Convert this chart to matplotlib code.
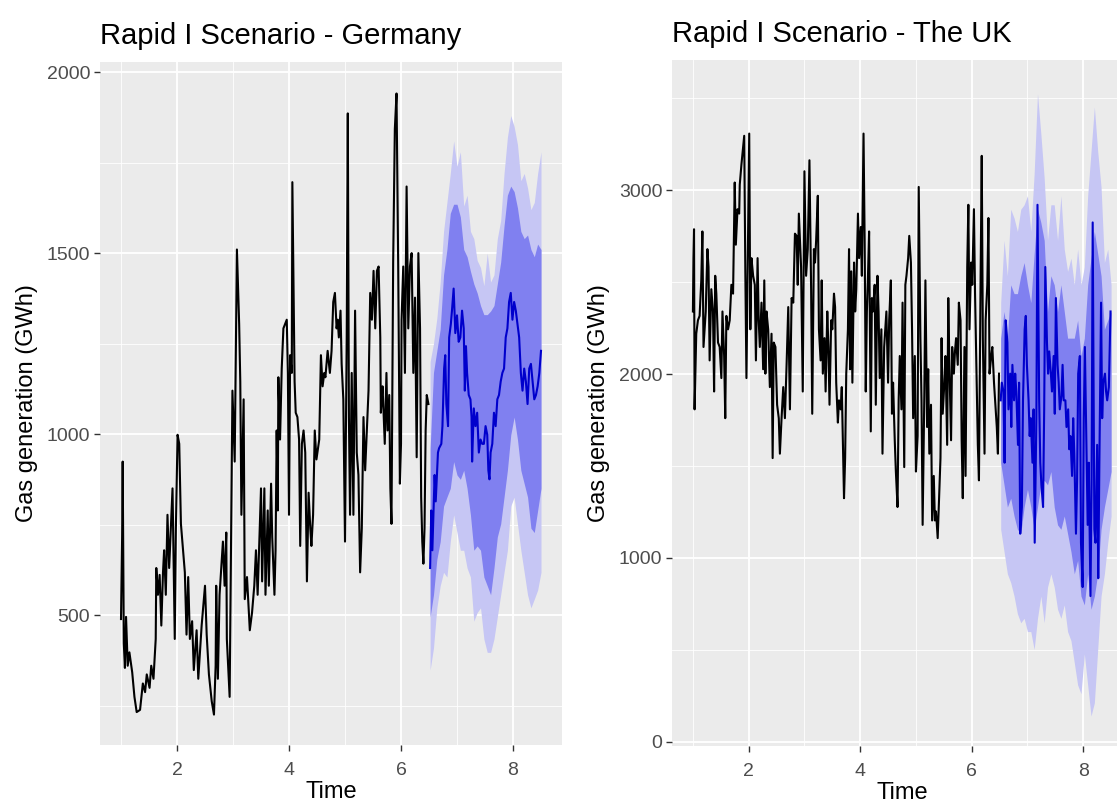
# Rapid I scenario: weekly gas generation history + 2-year forecast fan
# Germany (left) and the UK (right), ggplot-like look

import matplotlib
matplotlib.use("Agg")
import matplotlib.pyplot as plt
from matplotlib.ticker import MultipleLocator

plt.rcParams['font.family'] = ['Liberation Sans', 'DejaVu Sans']

# ── 1. Germany: history (time, GWh) ──────────────────────────────────────────
de_hist_t = [1.00, 1.02, 1.03, 1.05, 1.07, 1.09, 1.12, 1.15, 1.20, 1.24,
             1.28, 1.34, 1.39, 1.43, 1.46, 1.51, 1.54, 1.58, 1.62, 1.63,
             1.66, 1.69, 1.72, 1.75, 1.77, 1.80, 1.83, 1.86, 1.92, 1.96,
             1.98, 2.01, 2.04, 2.07, 2.14, 2.17, 2.20, 2.23, 2.27, 2.30,
             2.35, 2.38, 2.44, 2.50, 2.53, 2.57, 2.62, 2.66, 2.69, 2.70,
             2.73, 2.76, 2.82, 2.85, 2.88, 2.89, 2.94, 2.99, 3.03, 3.07,
             3.11, 3.13, 3.15, 3.19, 3.21, 3.25, 3.30, 3.34, 3.38, 3.41,
             3.44, 3.50, 3.52, 3.56, 3.58, 3.62, 3.64, 3.68, 3.70, 3.74,
             3.76, 3.78, 3.80, 3.81, 3.84, 3.87, 3.90, 3.93, 3.96, 3.98,
             4.00, 4.02, 4.05, 4.06, 4.08, 4.10, 4.12, 4.15, 4.18, 4.20,
             4.23, 4.26, 4.29, 4.32, 4.35, 4.38, 4.40, 4.43, 4.46, 4.49,
             4.54, 4.57, 4.60, 4.63, 4.65, 4.69, 4.73, 4.76, 4.79, 4.82,
             4.85, 4.87, 4.89, 4.92, 4.94, 4.97, 5.00, 5.03, 5.05, 5.07,
             5.09, 5.12, 5.15, 5.18, 5.21, 5.24, 5.27, 5.30, 5.33, 5.36,
             5.39, 5.42, 5.45, 5.48, 5.51, 5.54, 5.57, 5.60, 5.63, 5.64,
             5.67, 5.68, 5.71, 5.74, 5.76, 5.79, 5.81, 5.83, 5.86, 5.89,
             5.92, 5.95, 5.98, 6.00, 6.01, 6.04, 6.07, 6.10, 6.13, 6.16,
             6.19, 6.22, 6.25, 6.28, 6.31, 6.34, 6.36, 6.38, 6.40, 6.42,
             6.44, 6.46, 6.49]
de_hist_v = [489, 716, 924, 422, 354, 495, 360, 397, 342, 274,
             232, 238, 311, 287, 336, 299, 360, 324, 434, 630,
             556, 611, 471, 618, 679, 556, 777, 630, 850, 434,
             740, 998, 973, 752, 618, 446, 605, 434, 483, 348,
             458, 324, 471, 581, 446, 336, 262, 225, 360, 581,
             324, 556, 703, 581, 728, 434, 274, 1120, 924, 1510,
             1304, 1145, 777, 1096, 544, 605, 458, 507, 581, 679,
             556, 850, 593, 850, 556, 789, 581, 863, 716, 556,
             679, 1010, 789, 1157, 985, 1181, 1292, 1304, 1316, 1169,
             777, 1218, 1169, 1696, 1414, 1145, 1059, 1047, 985, 691,
             973, 1010, 949, 593, 838, 740, 691, 777, 1010, 930,
             985, 1218, 1132, 1169, 1157, 1230, 1169, 1230, 1365, 1390,
             1292, 1316, 1267, 1341, 1194, 1096, 703, 1267, 1886, 1047,
             777, 1169, 777, 1341, 949, 887, 618, 740, 1047, 900,
             1010, 1120, 1390, 1316, 1451, 1292, 1451, 1463, 1267, 1059,
             1132, 1096, 973, 1169, 1010, 1108, 850, 752, 1475, 1843,
             1941, 1463, 863, 973, 1316, 1463, 1169, 1684, 1292, 1463,
             1500, 1169, 1377, 936, 1500, 1292, 826, 703, 642, 740,
             1010, 1108, 1083]

# ── 2. Germany: forecast mean and 80 / 95 % intervals ────────────────────────
de_fc_t = [6.52, 6.54, 6.56, 6.60, 6.62, 6.66, 6.68, 6.72, 6.74, 6.77,
           6.79, 6.81, 6.84, 6.86, 6.89, 6.91, 6.94, 6.97, 7.00, 7.03,
           7.06, 7.09, 7.12, 7.14, 7.16, 7.18, 7.21, 7.24, 7.26, 7.27,
           7.30, 7.33, 7.36, 7.39, 7.42, 7.45, 7.48, 7.51, 7.54, 7.56,
           7.58, 7.60, 7.63, 7.66, 7.69, 7.72, 7.75, 7.78, 7.81, 7.84,
           7.87, 7.90, 7.93, 7.96, 7.99, 8.02, 8.05, 8.08, 8.11, 8.14,
           8.17, 8.20, 8.23, 8.26, 8.29, 8.32, 8.35, 8.38, 8.41, 8.44,
           8.47, 8.50]
de_fc_v = [630, 789, 679, 887, 814, 949, 961, 973, 1022, 1181,
           1218, 1083, 1022, 1267, 1304, 1341, 1402, 1279, 1328, 1255,
           1267, 1341, 1292, 1120, 1243, 1169, 1108, 1096, 1047, 924,
           1071, 1022, 1059, 949, 985, 973, 973, 1022, 998, 900,
           875, 949, 973, 1059, 1022, 1096, 1108, 1145, 1169, 1181,
           1267, 1292, 1365, 1390, 1316, 1365, 1341, 1304, 1267, 1169,
           1120, 1181, 1145, 1083, 1181, 1194, 1145, 1096, 1108, 1132,
           1169, 1230]

band_t = [6.52, 6.58, 6.64, 6.70, 6.76, 6.82, 6.88, 6.94, 7.00, 7.06,
          7.12, 7.18, 7.24, 7.30, 7.36, 7.42, 7.48, 7.54, 7.60, 7.66,
          7.72, 7.78, 7.84, 7.90, 7.96, 8.02, 8.08, 8.14, 8.20, 8.26,
          8.32, 8.38, 8.44, 8.50]

de_hi95 = [1200, 1250, 1320, 1420, 1560, 1640, 1720, 1810, 1740, 1780,
           1630, 1660, 1560, 1540, 1480, 1460, 1410, 1500, 1420, 1440,
           1540, 1590, 1720, 1820, 1880, 1850, 1800, 1700, 1720, 1680,
           1620, 1640, 1720, 1780]
de_hi80 = [960, 1170, 1230, 1290, 1440, 1510, 1610, 1635, 1635, 1600,
           1510, 1490, 1450, 1415, 1390, 1355, 1330, 1330, 1340, 1355,
           1415, 1475, 1575, 1660, 1685, 1670, 1625, 1560, 1540, 1550,
           1510, 1490, 1525, 1510]
de_lo80 = [495, 556, 654, 703, 801, 826, 850, 924, 887, 875,
           900, 850, 777, 679, 691, 679, 605, 581, 556, 630,
           716, 752, 826, 900, 998, 1047, 985, 900, 863, 826,
           740, 728, 789, 850]
de_lo95 = [348, 409, 520, 581, 618, 605, 703, 777, 728, 679,
           679, 630, 605, 483, 507, 520, 434, 397, 397, 434,
           495, 556, 618, 679, 801, 826, 752, 679, 618, 556,
           520, 544, 569, 618]

# ── 3. The UK: history ───────────────────────────────────────────────────────
uk_hist_t = [1.00, 1.01, 1.02, 1.03, 1.06, 1.09, 1.12, 1.15, 1.17, 1.19,
             1.21, 1.23, 1.26, 1.28, 1.30, 1.33, 1.36, 1.38, 1.40, 1.42,
             1.45, 1.48, 1.51, 1.53, 1.56, 1.58, 1.60, 1.63, 1.66, 1.69,
             1.72, 1.75, 1.77, 1.80, 1.83, 1.84, 1.87, 1.90, 1.92, 1.94,
             1.96, 1.99, 2.01, 2.03, 2.05, 2.08, 2.11, 2.13, 2.16, 2.18,
             2.20, 2.23, 2.26, 2.28, 2.30, 2.32, 2.35, 2.38, 2.41, 2.43,
             2.45, 2.48, 2.51, 2.54, 2.56, 2.59, 2.62, 2.65, 2.68, 2.71,
             2.74, 2.77, 2.80, 2.83, 2.86, 2.88, 2.90, 2.94, 2.97, 3.00,
             3.03, 3.06, 3.09, 3.12, 3.14, 3.17, 3.19, 3.21, 3.24, 3.26,
             3.29, 3.31, 3.33, 3.36, 3.38, 3.41, 3.43, 3.45, 3.48, 3.50,
             3.53, 3.55, 3.57, 3.60, 3.62, 3.65, 3.67, 3.69, 3.71, 3.73,
             3.75, 3.78, 3.80, 3.82, 3.84, 3.86, 3.89, 3.91, 3.93, 3.96,
             3.98, 4.01, 4.03, 4.06, 4.08, 4.10, 4.12, 4.14, 4.16, 4.19,
             4.21, 4.23, 4.26, 4.28, 4.31, 4.33, 4.35, 4.38, 4.40, 4.43,
             4.45, 4.47, 4.50, 4.52, 4.55, 4.57, 4.59, 4.62, 4.64, 4.67,
             4.69, 4.71, 4.74, 4.76, 4.79, 4.81, 4.83, 4.86, 4.88, 4.91,
             4.93, 4.95, 4.98, 5.00, 5.03, 5.05, 5.08, 5.10, 5.12, 5.15,
             5.17, 5.20, 5.22, 5.24, 5.27, 5.29, 5.32, 5.34, 5.36, 5.39,
             5.41, 5.44, 5.46, 5.48, 5.51, 5.53, 5.56, 5.58, 5.60, 5.63,
             5.65, 5.68, 5.70, 5.72, 5.75, 5.77, 5.80, 5.82, 5.84, 5.87,
             5.89, 5.92, 5.94, 5.96, 5.99, 6.01, 6.04, 6.06, 6.08, 6.11,
             6.13, 6.16, 6.18, 6.20, 6.23, 6.25, 6.28, 6.30, 6.32, 6.35,
             6.37, 6.40, 6.42, 6.45, 6.47, 6.49]
uk_hist_v = [2340, 2630, 2787, 1808, 2219, 2292, 2316, 2509, 2775, 2147,
             2243, 2340, 2679, 2582, 2074, 2461, 2340, 1905, 2534, 2437,
             2171, 2147, 1978, 2340, 2098, 1760, 2316, 2243, 2292, 2485,
             2437, 3041, 2703, 2896, 2872, 3029, 3138, 3234, 3295, 2558,
             1978, 2775, 3307, 2243, 2630, 2534, 2485, 2074, 2630, 2292,
             2147, 2388, 2026, 2509, 2002, 2340, 2243, 1929, 2219, 1543,
             2171, 2147, 1833, 1760, 1567, 1760, 1929, 1760, 2050, 2364,
             1808, 2413, 2388, 2763, 2751, 2485, 2872, 2582, 1905, 3102,
             2534, 2679, 3162, 2461, 1784, 2679, 2606, 2727, 2969, 2243,
             2074, 2509, 2002, 2195, 1905, 2340, 2147, 1833, 2292, 2243,
             2437, 2364, 1953, 1736, 1857, 1808, 1929, 1615, 1325, 1543,
             2002, 2243, 2679, 2026, 2558, 1953, 2606, 2340, 2461, 2872,
             2630, 2799, 2534, 3307, 2727, 1905, 2340, 2534, 2775, 1688,
             2413, 2340, 2485, 1833, 2534, 2340, 1978, 2243, 1567, 2147,
             2243, 2340, 1953, 2292, 2509, 1784, 1953, 1640, 1470, 1277,
             1857, 2098, 1808, 2388, 1494, 2485, 2534, 2630, 2751, 2606,
             2243, 1760, 2098, 1470, 1663, 3017, 2195, 1857, 1180, 1881,
             2509, 1712, 2026, 1567, 1833, 1204, 1446, 1204, 1253, 1108,
             1277, 1543, 2195, 1784, 1953, 2098, 1615, 2413, 2050, 1640,
             2147, 2002, 2123, 2195, 2050, 2388, 2292, 1640, 1325, 2147,
             1446, 2582, 2920, 2243, 2606, 2485, 2896, 2437, 2098, 1615,
             1422, 2534, 3186, 2195, 1567, 2292, 2485, 2848, 2002, 2098,
             2147, 1953, 1857, 1712, 1567, 2002]

# ── 4. The UK: forecast ──────────────────────────────────────────────────────
uk_fc_t = [6.52, 6.54, 6.57, 6.59, 6.61, 6.64, 6.66, 6.69, 6.71, 6.73,
           6.76, 6.78, 6.80, 6.83, 6.85, 6.87, 6.90, 6.92, 6.95, 6.97,
           6.99, 7.02, 7.04, 7.06, 7.09, 7.11, 7.13, 7.16, 7.18, 7.21,
           7.23, 7.25, 7.28, 7.30, 7.32, 7.35, 7.37, 7.39, 7.42, 7.44,
           7.47, 7.49, 7.51, 7.54, 7.56, 7.58, 7.61, 7.63, 7.65, 7.68,
           7.70, 7.73, 7.75, 7.77, 7.80, 7.82, 7.84, 7.87, 7.89, 7.91,
           7.94, 7.96, 7.99, 8.01, 8.03, 8.06, 8.08, 8.10, 8.13, 8.15,
           8.17, 8.20, 8.22, 8.25, 8.27, 8.29, 8.32, 8.34, 8.36, 8.39,
           8.41, 8.43, 8.46, 8.49]
uk_fc_v = [1857, 1953, 1905, 1518, 2292, 2171, 1808, 2002, 1712, 2050,
           1857, 2002, 1905, 1615, 1953, 1132, 1277, 1857, 2243, 2316,
           2050, 1857, 1663, 1760, 1518, 1808, 1083, 1760, 2920, 1857,
           1518, 1398, 1277, 1808, 2582, 2171, 2002, 2123, 2002, 1905,
           2098, 1784, 2413, 2050, 1953, 1808, 1881, 2050, 1857, 1857,
           1712, 1808, 1591, 1663, 1446, 1760, 1567, 1132, 1422, 2002,
           2098, 1083, 842, 1760, 2147, 1567, 1180, 1518, 793, 1398,
           2824, 1156, 1083, 1615, 890, 1518, 2388, 1760, 1953, 2002,
           1905, 1857, 1929, 2340]

uk_hi95 = [2388, 2727, 2534, 2896, 2848, 2775, 2896, 2920, 2969, 2775,
           3089, 3524, 3307, 3065, 2727, 2920, 2920, 2727, 2969, 2679,
           2558, 2630, 2485, 2679, 2485, 2582, 2969, 3210, 3452, 3210,
           3017, 2606, 2679, 2485]
uk_hi80 = [2195, 2340, 2195, 2485, 2437, 2437, 2534, 2606, 2485, 2388,
           2654, 2896, 2824, 2727, 2340, 2534, 2485, 2340, 2485, 2340,
           2195, 2195, 2195, 2292, 2098, 2195, 2485, 2630, 2775, 2654,
           2534, 2243, 2292, 2340]
uk_lo80 = [1518, 1398, 1277, 1325, 1228, 1156, 1132, 1277, 1373, 1277,
           1156, 1277, 1398, 1422, 1398, 1470, 1277, 1180, 1156, 1228,
           1132, 1035, 914, 987, 793, 745, 914, 721, 793, 914,
           1156, 1277, 1373, 1470]
uk_lo95 = [1156, 1035, 914, 866, 793, 697, 648, 672, 600, 600,
           503, 672, 793, 648, 842, 914, 842, 721, 672, 745,
           600, 551, 431, 310, 262, 479, 310, 141, 213, 503,
           793, 914, 1083, 1228]

# ── 5. Plot ──────────────────────────────────────────────────────────────────
W, H = 1117, 805
fig = plt.figure(figsize=(W / 100, H / 100), dpi=100)
# right panel runs past the figure edge, as in the cropped original
ax1 = fig.add_axes([100 / W, 1 - 745 / H, 462 / W, 683 / H])
ax2 = fig.add_axes([672 / W, 1 - 746 / H, 460 / W, 686 / H])


def gg_panel(ax, title, ylim, ymaj, hist, fc, bands):
    ax.set_facecolor('#EBEBEB')
    for s in ax.spines.values():
        s.set_visible(False)
    ax.set_axisbelow(True)
    ax.set_xlim(0.625, 8.875)
    ax.set_ylim(*ylim)
    ax.xaxis.set_major_locator(MultipleLocator(2))
    ax.xaxis.set_minor_locator(MultipleLocator(1))
    ax.yaxis.set_major_locator(MultipleLocator(ymaj))
    ax.yaxis.set_minor_locator(MultipleLocator(ymaj / 2))
    ax.grid(which='major', color='white', linewidth=1.3)
    ax.grid(which='minor', color='white', linewidth=0.6)
    ax.tick_params(which='major', length=4, width=1, color='#333333',
                   labelsize=14, labelcolor='#4D4D4D')
    ax.tick_params(axis='x', pad=8)
    ax.tick_params(axis='y', pad=3)
    ax.tick_params(which='minor', length=0)

    lo95, lo80, hi80, hi95 = bands
    ax.fill_between(band_t, lo95, hi95, color='#C6C6F4', linewidth=0)
    ax.fill_between(band_t, lo80, hi80, color='#8080F0', linewidth=0)
    ax.plot(fc[0], fc[1], color='#0000CC', linewidth=1.5)
    ax.plot(hist[0], hist[1], color='black', linewidth=1.5)

    ax.set_title(title, loc='left', fontsize=21, pad=13)
    ax.set_xlabel('Time', fontsize=17, labelpad=2)
    ax.set_ylabel('Gas generation (GWh)', fontsize=17, labelpad=6)


gg_panel(ax1, 'Rapid I Scenario - Germany', (141, 2028), 500,
         (de_hist_t, de_hist_v), (de_fc_t, de_fc_v),
         (de_lo95, de_lo80, de_hi80, de_hi95))
gg_panel(ax2, 'Rapid I Scenario - The UK', (-22, 3707), 1000,
         (uk_hist_t, uk_hist_v), (uk_fc_t, uk_fc_v),
         (uk_lo95, uk_lo80, uk_hi80, uk_hi95))

fig.savefig('out.png', dpi=100)
plt.close(fig)
print("Saved out.png")
